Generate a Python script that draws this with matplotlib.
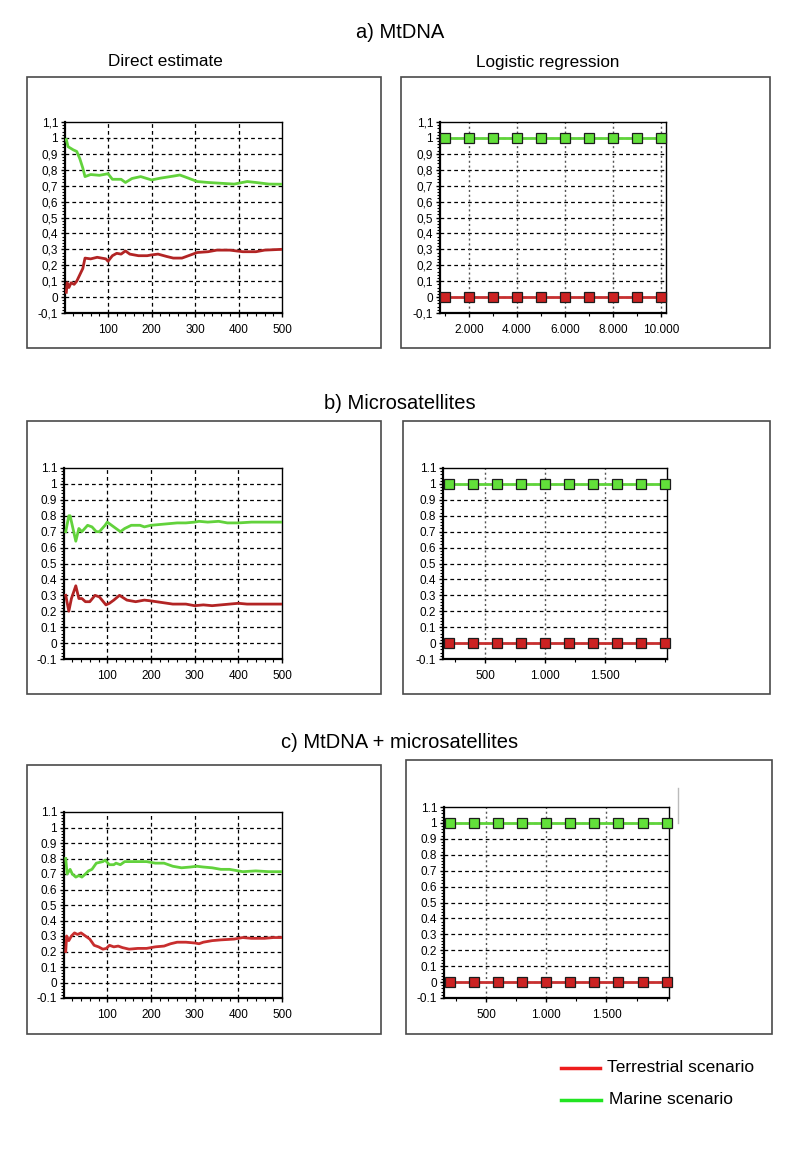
import matplotlib
matplotlib.use("Agg")
import matplotlib.pyplot as plt
from matplotlib.patches import Rectangle
from matplotlib.lines import Line2D
from matplotlib.ticker import MultipleLocator

plt.rcParams['font.family'] = ['Liberation Sans', 'DejaVu Sans']

# ---- data: direct estimate (posterior probability vs. number of simulations kept)
a_x_green = [4, 8, 20, 28, 35, 42, 47, 60, 80, 100, 110, 130, 140, 155, 175, 200, 220, 250, 265,
             285, 305, 330, 360, 390, 420, 440, 470, 500]
a_green = [0.99, 0.945, 0.925, 0.915, 0.87, 0.81, 0.757, 0.77, 0.765, 0.775, 0.74, 0.74, 0.72,
           0.745, 0.757, 0.736, 0.747, 0.76, 0.767, 0.747, 0.726, 0.72, 0.715, 0.71, 0.726, 0.72,
           0.71, 0.709]
a_x_red = [4, 6, 10, 15, 22, 28, 35, 42, 47, 60, 75, 95, 100, 110, 120, 130, 140, 150, 170, 190,
           200, 215, 235, 250, 270, 285, 305, 330, 350, 380, 395, 410, 440, 460, 500]
a_red = [0.03, 0.09, 0.06, 0.09, 0.08, 0.10, 0.14, 0.18, 0.245, 0.24, 0.25, 0.24, 0.225, 0.26,
         0.275, 0.27, 0.29, 0.27, 0.26, 0.26, 0.265, 0.27, 0.255, 0.245, 0.245, 0.26, 0.28, 0.285,
         0.295, 0.295, 0.29, 0.285, 0.285, 0.295, 0.30]

b_x_green = [5, 12, 15, 28, 35, 42, 55, 65, 75, 82, 95, 100, 110, 120, 130, 140, 155, 175, 185,
             200, 220, 240, 260, 280, 300, 310, 330, 355, 375, 400, 430, 500]
b_green = [0.70, 0.80, 0.80, 0.64, 0.72, 0.70, 0.74, 0.73, 0.70, 0.70, 0.74, 0.76, 0.74, 0.72,
           0.70, 0.72, 0.74, 0.74, 0.73, 0.74, 0.745, 0.75, 0.755, 0.755, 0.76, 0.765, 0.76,
           0.765, 0.755, 0.755, 0.76, 0.76]
b_x_red = [5, 12, 18, 28, 35, 42, 50, 60, 72, 82, 97, 105, 115, 128, 145, 165, 185, 200, 225,
           250, 280, 300, 320, 340, 360, 380, 400, 420, 500]
b_red = [0.30, 0.20, 0.28, 0.36, 0.28, 0.28, 0.26, 0.26, 0.30, 0.29, 0.24, 0.25, 0.27, 0.30,
         0.27, 0.26, 0.27, 0.265, 0.255, 0.245, 0.245, 0.235, 0.24, 0.235, 0.24, 0.245, 0.25,
         0.245, 0.245]

c_x_green = [5, 8, 15, 20, 28, 35, 42, 50, 57, 65, 75, 90, 95, 105, 115, 120, 130, 140, 160, 190,
             210, 230, 250, 270, 290, 305, 320, 340, 360, 380, 400, 410, 440, 470, 500]
c_green = [0.80, 0.70, 0.73, 0.70, 0.68, 0.69, 0.68, 0.70, 0.72, 0.73, 0.77, 0.78, 0.79, 0.76,
           0.76, 0.77, 0.76, 0.78, 0.78, 0.78, 0.77, 0.77, 0.75, 0.74, 0.745, 0.75, 0.745, 0.74,
           0.73, 0.73, 0.72, 0.715, 0.72, 0.715, 0.715]
c_x_red = [5, 7, 12, 18, 25, 32, 40, 50, 60, 70, 80, 90, 98, 105, 115, 125, 135, 150, 170, 190,
           210, 230, 245, 260, 280, 300, 310, 320, 340, 360, 390, 410, 430, 460, 480, 500]
c_red = [0.20, 0.30, 0.27, 0.30, 0.32, 0.31, 0.32, 0.30, 0.28, 0.24, 0.23, 0.215, 0.22, 0.24,
         0.23, 0.235, 0.225, 0.215, 0.22, 0.22, 0.23, 0.235, 0.25, 0.26, 0.26, 0.255, 0.25, 0.26,
         0.27, 0.275, 0.28, 0.29, 0.285, 0.285, 0.29, 0.29]

# ---- data: logistic regression
a_log_x = [1000, 2000, 3000, 4000, 5000, 6000, 7000, 8000, 9000, 10000]
bc_log_x = [200, 400, 600, 800, 1000, 1200, 1400, 1600, 1800, 2000]
log_marine = [1, 1, 1, 1, 1, 1, 1, 1, 1, 1]
log_terr = [0, 0, 0, 0, 0, 0, 0, 0, 0, 0]

y_ticks = [-0.1, 0, 0.1, 0.2, 0.3, 0.4, 0.5, 0.6, 0.7, 0.8, 0.9, 1.0, 1.1]
y_labels_comma = ["-0,1", "0", "0,1", "0,2", "0,3", "0,4", "0,5", "0,6", "0,7", "0,8", "0,9", "1", "1,1"]
y_labels_dot = ["-0.1", "0", "0.1", "0.2", "0.3", "0.4", "0.5", "0.6", "0.7", "0.8", "0.9", "1", "1.1"]
direct_ticks = [100, 200, 300, 400, 500]
a_log_ticks = [2000, 4000, 6000, 8000, 10000]
a_log_labels = ["2.000", "4.000", "6.000", "8.000", "10.000"]
bc_log_ticks = [500, 1000, 1500]
bc_log_labels = ["500", "1.000", "1.500"]

W, H = 800, 1156
fig = plt.figure(figsize=(W / 100, H / 100), dpi=100)


def px_axes(l, t, r, b):
    return fig.add_axes([l / W, 1 - b / H, (r - l) / W, (b - t) / H])


def frame(l, t, r, b):
    fig.add_artist(Rectangle((l / W, 1 - b / H), (r - l) / W, (b - t) / H,
                             transform=fig.transFigure, fill=False,
                             edgecolor="#4a4a4a", linewidth=1.2))


def style(ax, ylabels):
    ax.set_ylim(-0.1, 1.1)
    ax.set_yticks(y_ticks)
    ax.set_yticklabels(ylabels)
    ax.yaxis.set_minor_locator(MultipleLocator(0.02))
    ax.tick_params(axis="y", which="major", labelsize=8.5, length=3, width=1, pad=2)
    ax.tick_params(axis="x", which="major", labelsize=8.5, length=3, width=1, pad=5)
    ax.tick_params(axis="both", which="minor", length=2, width=0.8)
    for y in y_ticks[1:-1]:
        ax.axhline(y, color="black", lw=0.9, ls=(0, (3, 2.5)), zorder=1)
    for s in ax.spines.values():
        s.set_linewidth(1.0)
    ax.spines["left"].set_linewidth(1.6)
    ax.spines["bottom"].set_linewidth(1.6)


def direct(ax, xg, yg, xr, yr, ylabels, red="#b22424"):
    style(ax, ylabels)
    ax.set_xlim(1, 500)
    ax.set_xticks(direct_ticks)
    ax.xaxis.set_minor_locator(MultipleLocator(20))
    for x in direct_ticks[:-1]:
        ax.axvline(x, color="black", lw=0.9, ls=(0, (3, 2.5)), zorder=1)
    ax.plot(xg, yg, color="#62d23c", lw=2, zorder=3)
    ax.plot(xr, yr, color=red, lw=2, zorder=3)


def logistic(ax, x, ticks, labels, xlim, ylabels, minor):
    style(ax, ylabels)
    ax.set_xlim(*xlim)
    ax.set_xticks(ticks)
    ax.set_xticklabels(labels)
    ax.xaxis.set_minor_locator(MultipleLocator(minor))
    for t in ticks:
        ax.axvline(t, color="#555555", lw=1.0, ls=(0, (1.5, 2)), zorder=1)
    ax.plot(x, log_marine, color="#5fd43a", lw=2, marker="s", ms=7, mfc="#62e03a",
            mec="#1c1c1c", mew=0.9, zorder=3, clip_on=False)
    ax.plot(x, log_terr, color="#c83030", lw=2, marker="s", ms=7, mfc="#cc2222",
            mec="#1c1c1c", mew=0.9, zorder=3, clip_on=False)


# panel frames
frame(27, 77, 381, 348)
frame(401, 77, 770, 348)
frame(27, 421, 381, 694)
frame(403, 421, 770, 694)
frame(27, 765, 381, 1034)
frame(406, 760, 772, 1034)
fig.add_artist(Line2D([678 / W, 678 / W], [1 - 788 / H, 1 - 823 / H],
                      transform=fig.transFigure, color="#bbbbbb", lw=1))

# a) MtDNA
ax = px_axes(65, 122, 282, 313)
direct(ax, a_x_green, a_green, a_x_red, a_red, y_labels_comma)
ax = px_axes(440, 122, 666, 313)
logistic(ax, a_log_x, a_log_ticks, a_log_labels, (790, 10210), y_labels_comma, 1000)

# b) Microsatellites
ax = px_axes(64, 468, 282, 659)
direct(ax, b_x_green, b_green, b_x_red, b_red, y_labels_dot)
ax = px_axes(443, 468, 667, 659)
logistic(ax, bc_log_x, bc_log_ticks, bc_log_labels, (150, 2020), y_labels_dot, 250)

# c) MtDNA + microsatellites
ax = px_axes(64, 812, 282, 998)
direct(ax, c_x_green, c_green, c_x_red, c_red, y_labels_dot, red="#c82e2e")
ax = px_axes(444, 807, 669, 998)
logistic(ax, bc_log_x, bc_log_ticks, bc_log_labels, (150, 2020), y_labels_dot, 250)

# titles
def ftext(x, y, s, size, ha="center"):
    fig.text(x / W, 1 - y / H, s, ha=ha, va="center", fontsize=size)


ftext(400, 32, "a) MtDNA", 14.5)
ftext(165, 62, "Direct estimate", 12.3)
ftext(548, 62, "Logistic regression", 12.3)
ftext(400, 403, "b) Microsatellites", 14.5)
ftext(400, 743, "c) MtDNA + microsatellites", 14.5)

# legend
fig.add_artist(Line2D([561 / W, 600 / W], [1 - 1068 / H, 1 - 1068 / H],
                      transform=fig.transFigure, color="#ee1c1c", lw=2.5))
fig.add_artist(Line2D([561 / W, 601 / W], [1 - 1100 / H, 1 - 1100 / H],
                      transform=fig.transFigure, color="#22e422", lw=2.5))
ftext(607, 1067, "Terrestrial scenario", 12.5, ha="left")
ftext(609, 1099, "Marine scenario", 12.5, ha="left")

fig.savefig("out.png", dpi=100)
